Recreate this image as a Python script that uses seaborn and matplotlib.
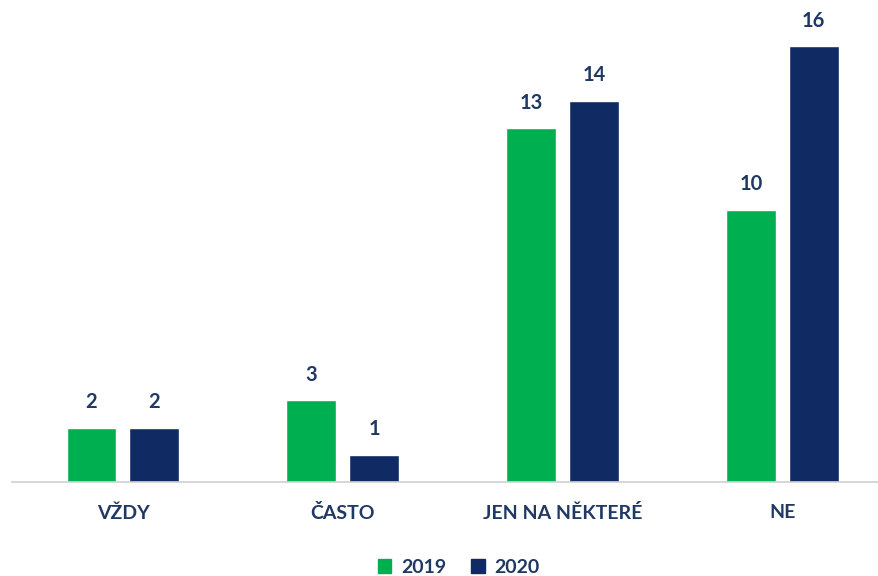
# import libraries for arrays, DataFrames and plotting
import numpy as np
import pandas as pd
import matplotlib
matplotlib.use('Agg')
import matplotlib.pyplot as plt
import seaborn as sns

# chart data
categories = ['VŽDY', 'ČASTO', 'JEN NA NĚKTERÉ', 'NE']
years = ['2019', '2020']
values_2019 = [2, 3, 13, 10]
values_2020 = [2, 1, 14, 16]

# long-form table for seaborn
df = pd.DataFrame({
    'category': categories * 2,
    'year': [years[0]] * len(categories) + [years[1]] * len(categories),
    'value': values_2019 + values_2020,
})

green = '#00B050'
navy = '#102B63'
text_navy = '#1F3864'

sns.set_style('white')
plt.rcParams['font.family'] = ['Lato', 'DejaVu Sans']

fig = plt.figure(figsize=(8.79, 5.76), dpi=100)
ax = fig.add_axes([12 / 879, 94 / 576, 1 - 12 / 879, 1 - 94 / 576])

sns.barplot(data=df, x='category', y='value', hue='year', order=categories,
            hue_order=years, palette=[green, navy], width=0.573, gap=0.206,
            saturation=1, ax=ax, legend=False)

# value labels above bars
for cont in ax.containers:
    ax.bar_label(cont, fmt='%d', padding=11, fontsize=14.5, fontweight='bold',
                 color=text_navy)

ax.set_xlim(-0.505, 3.44)
ax.set_ylim(0, 17.69)
ax.set_xlabel('')
ax.set_ylabel('')
ax.set_yticks([])
ax.tick_params(axis='x', length=0, pad=16)
for lbl in ax.get_xticklabels():
    lbl.set_fontsize(14)
    lbl.set_fontweight('bold')
    lbl.set_color(text_navy)

# only a thin grey baseline
for side in ['top', 'left', 'right']:
    ax.spines[side].set_visible(False)
ax.spines['bottom'].set_color('#d0d0d0')
ax.spines['bottom'].set_linewidth(1.2)

# legend at the bottom
handles = [plt.Rectangle((0, 0), 1, 1, color=c) for c in [green, navy]]
leg = fig.legend(handles, years, loc='lower center', bbox_to_anchor=(0.522, -0.03),
                 ncol=2, frameon=False, handlelength=0.7, handleheight=0.7,
                 handletextpad=0.5, columnspacing=1.3,
                 prop={'size': 14, 'weight': 'bold'})
for t in leg.get_texts():
    t.set_color(text_navy)

fig.savefig('out.png', dpi=100)
